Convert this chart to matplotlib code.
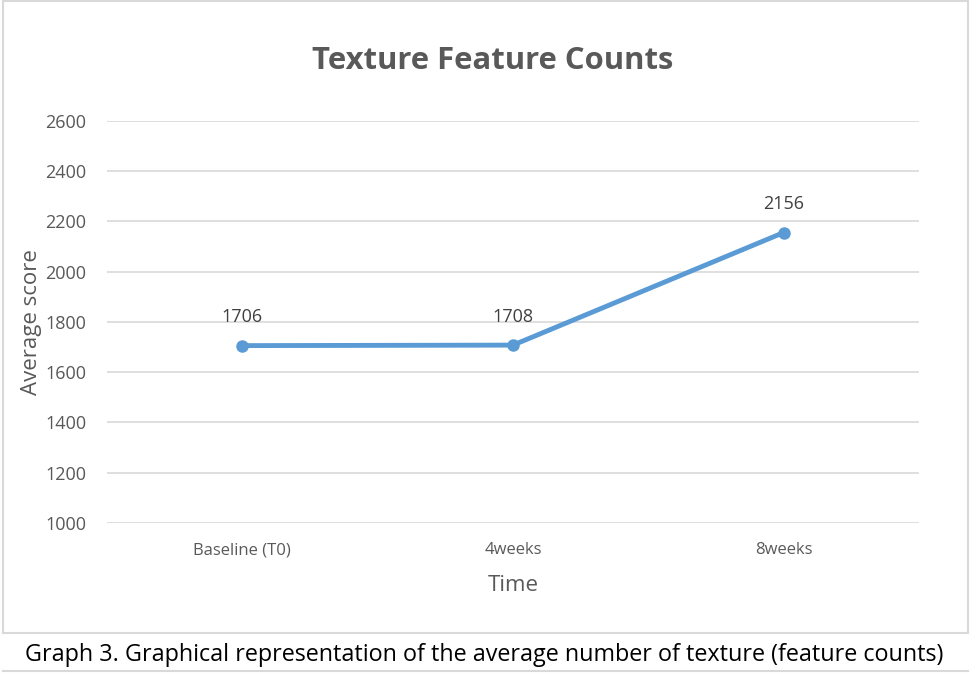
import matplotlib.pyplot as plt
from matplotlib.patches import Rectangle
from matplotlib.lines import Line2D

categories = ['Baseline (T0)', '4weeks', '8weeks']
scores = [1706, 1708, 2156]
y_ticks = [1000, 1200, 1400, 1600, 1800, 2000, 2200, 2400, 2600]

plt.rcParams['font.family'] = ['Open Sans', 'DejaVu Sans']

fig = plt.figure(figsize=(9.76, 6.74), dpi=100)

# chart frame and caption rules
fig.add_artist(Rectangle((3 / 976, 1 - 633 / 674), 965 / 976, 632 / 674,
                         transform=fig.transFigure, fill=False,
                         edgecolor='#d9d9d9', linewidth=1.5))
fig.add_artist(Line2D([3 / 976, 968 / 976], [1 - 671 / 674] * 2,
                      transform=fig.transFigure, color='#d9d9d9', linewidth=1.5))

ax = fig.add_axes([107 / 976, 1 - 523 / 674, 812 / 976, 402 / 674])
x = range(len(categories))
ax.plot(x, scores, color='#5b9bd5', linewidth=3.5, marker='o', markersize=8,
        solid_capstyle='round', zorder=3)
for i, v in zip(x, scores):
    ax.annotate(str(v), (i, v), xytext=(0, 14), textcoords='offset points',
                ha='center', va='bottom', fontsize=13, color='#404040')

ax.set_xlim(-0.5, len(categories) - 0.5)
ax.set_ylim(1000, 2600)
ax.set_yticks(y_ticks)
ax.set_xticks(list(x))
ax.set_xticklabels(categories, fontsize=12)
ax.grid(axis='y', color='#d9d9d9', linewidth=1.2)
ax.set_axisbelow(True)
for s in ax.spines.values():
    s.set_visible(False)
ax.tick_params(length=0, labelcolor='#595959')
ax.tick_params(axis='y', labelsize=13, pad=15)
ax.tick_params(axis='x', pad=14)

ax.set_xlabel('Time', fontsize=16, color='#595959', labelpad=12)
ax.set_ylabel('Average score', fontsize=16, color='#595959', labelpad=2)

fig.text(493 / 976, 1 - 61 / 674, 'Texture Feature Counts', ha='center',
         va='center', fontsize=22.3, fontweight='bold', color='#595959')
fig.text(484 / 976, 1 - 655 / 674,
         'Graph 3. Graphical representation of the average number of texture (feature counts)',
         ha='center', va='center', fontsize=16.8, color='black')

fig.savefig('out.png', dpi=100)
